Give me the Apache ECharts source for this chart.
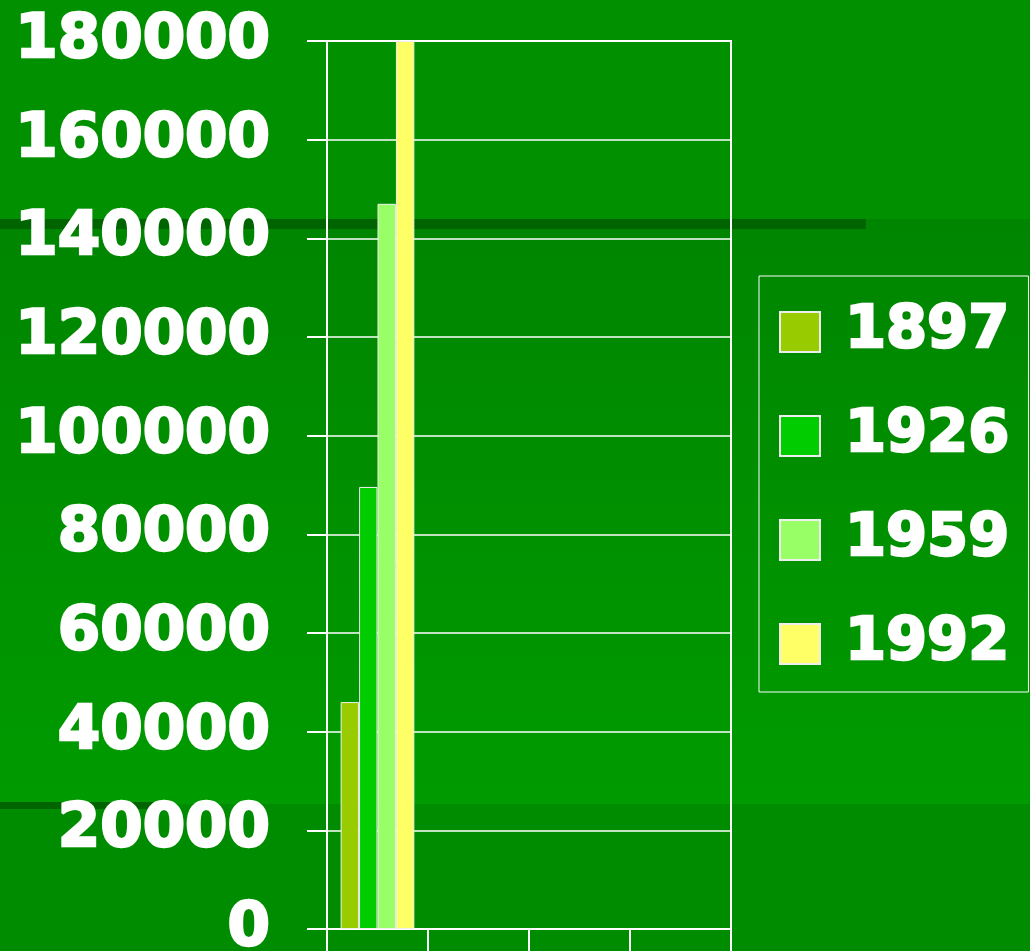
<!DOCTYPE html>
<html>
<head>
<meta charset="utf-8">
<script src="https://cdn.jsdelivr.net/npm/echarts@6/dist/echarts.min.js"></script>
<style>
  html, body { margin: 0; padding: 0; background: #008a00; }
  #chart { width: 1030px; height: 951px; }
</style>
</head>
<body>
<div id="chart"></div>
<script>
// 数据
const categories = ['A', 'B', 'C', 'D']
const seriesNames = ['1897', '1926', '1959', '1992']
const values1897 = [46000, null, null, null]
const values1926 = [89600, null, null, null]
const values1959 = [147000, null, null, null]
const values1992 = [180000, null, null, null]
const yTicks = { min: 0, max: 180000, interval: 20000 }

const colors = ['#99cc00', '#00cc00', '#99ff66', '#ffff66']
const allValues = [values1897, values1926, values1959, values1992]

const chart = echarts.init(document.getElementById('chart'))

// 粗体白字
const labelFont = {
  color: '#fff',
  fontFamily: 'DejaVu Sans',
  fontWeight: 'bold',
  fontSize: 61,
  textBorderColor: '#fff',
  textBorderWidth: 2.5,
}

const series = []
for (let i = 0; i < seriesNames.length; i++) {
  series.push({
    name: seriesNames[i],
    type: 'bar',
    barGap: '0%',
    barCategoryGap: '27%',
    itemStyle: {
      color: colors[i],
      borderColor: '#f0f0f0',
      borderWidth: 1,
    },
    data: allValues[i],
  })
}

const option = {
  animation: false,
  // 背景色带
  graphic: [
    { type: 'rect', z: -100, silent: true, shape: { x: 0, y: 0, width: 1030, height: 219 }, style: { fill: '#009000' } },
    {
      type: 'rect', z: -100, silent: true,
      shape: { x: 0, y: 219, width: 1030, height: 585 },
      style: {
        fill: new echarts.graphic.LinearGradient(0, 0, 0, 1, [
          { offset: 0, color: '#008500' },
          { offset: 1, color: '#009b00' },
        ]),
      },
    },
    { type: 'rect', z: -100, silent: true, shape: { x: 0, y: 804, width: 1030, height: 147 }, style: { fill: '#008c00' } },
    { type: 'rect', z: -99, silent: true, shape: { x: 0, y: 219, width: 866, height: 10 }, style: { fill: '#006400' } },
    { type: 'rect', z: -99, silent: true, shape: { x: 0, y: 802, width: 160, height: 7 }, style: { fill: '#006400' } },
  ],
  grid: {
    left: 327,
    right: 299,
    top: 41,
    bottom: 22,
    containLabel: false,
    outerBoundsMode: 'none',
    show: true,
    borderColor: '#fff',
    borderWidth: 2,
    backgroundColor: 'transparent',
  },
  legend: {
    orient: 'vertical',
    left: 759,
    top: 276,
    padding: [24, 18, 16, 20],
    itemGap: 40,
    itemWidth: 40,
    itemHeight: 40,
    icon: 'rect',
    borderColor: '#fff',
    borderWidth: 1,
    itemStyle: { borderColor: '#eee', borderWidth: 2 },
    textStyle: {
      ...labelFont,
      fontSize: 59,
      lineHeight: 64,
      padding: [0, 0, 0, 20],
    },
    data: seriesNames,
  },
  xAxis: {
    type: 'category',
    data: categories,
    axisLine: { lineStyle: { color: '#fff', width: 2 } },
    axisTick: { show: true, length: 25, lineStyle: { color: '#fff', width: 2 } },
    axisLabel: { show: false },
  },
  yAxis: {
    type: 'value',
    min: yTicks.min,
    max: yTicks.max,
    interval: yTicks.interval,
    axisLine: { show: true, lineStyle: { color: '#fff', width: 2 } },
    axisTick: { show: true, length: 20, lineStyle: { color: '#fff', width: 2 } },
    axisLabel: { ...labelFont, margin: 57, formatter: (v) => String(v) },
    splitLine: { show: true, lineStyle: { color: '#fff', width: 1.5 } },
  },
  series: series,
}

chart.setOption(option)
</script>
</body>
</html>
